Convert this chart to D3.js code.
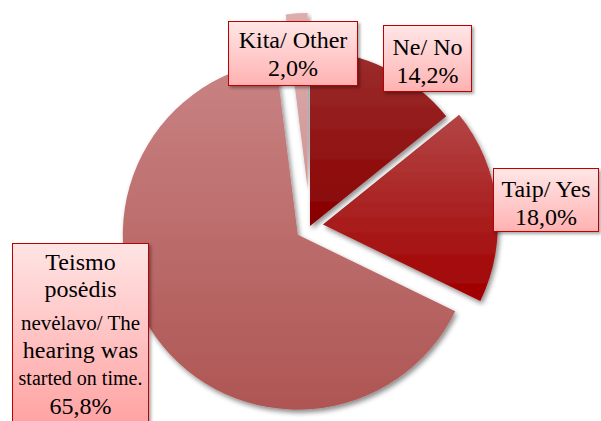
<!DOCTYPE html>
<html>
<head>
<meta charset="utf-8">
<script src="https://cdn.jsdelivr.net/npm/d3@7"></script>
<style>
  body { margin: 0; background: #fff; }
  #chart { position: relative; width: 601px; height: 421px; overflow: hidden; }
  svg { display: block; position: absolute; left: 0; top: 0; }
  .box {
    position: absolute;
    box-sizing: border-box;
    border: 1.8px solid #c00000;
    background: linear-gradient(#ffe6e6, #ffb2b2);
    box-shadow: 2px 2px 3px rgba(0, 0, 0, 0.35);
  }
  .line {
    position: absolute;
    white-space: nowrap;
    text-align: center;
    line-height: 1;
    color: #000;
    font-family: "Liberation Serif", "Times New Roman", serif;
  }
</style>
</head>
<body>
<div id="chart"></div>
<script>
// data
const categories = ["Ne/ No", "Taip/ Yes", "Teismo posėdis nevėlavo/ The hearing was started on time.", "Kita/ Other"];
const values = [14.2, 18.0, 65.8, 2.0];
const valueLabels = ["14,2%", "18,0%", "65,8%", "2,0%"];

const width = 601, height = 421;
const cx = 310, cy = 226, radius = 175;

// slice look (explode distance, gradient top / bottom)
const sliceStyle = [
  { explode: 0,  top: "#9c2e2e", bottom: "#880000" },
  { explode: 13, top: "#b34545", bottom: "#a10000" },
  { explode: 15, top: "#c98383", bottom: "#ae5654" },
  { explode: 38, top: "#ddadad", bottom: "#d09696" }
];

// label boxes (Excel places them by hand); lines: text, font size, baseline
const labelBoxes = [
  { x: 383, y: 25, w: 89, h: 67, lines: [["Ne/ No", 24, 55], ["14,2%", 24, 83]] },
  { x: 493, y: 168, w: 106, h: 64, lines: [["Taip/ Yes", 24, 197], ["18,0%", 24, 225]] },
  { x: 12, y: 243, w: 137, h: 200, lines: [["Teismo", 24, 270], ["posėdis", 24, 297],
      ["nevėlavo/ The", 21, 331], ["hearing was", 24, 358], ["started on time.", 20, 385], ["65,8%", 24, 414]] },
  { x: 228, y: 21, w: 130, h: 65, lines: [["Kita/ Other", 24, 48], ["2,0%", 24, 76]] }
];

const chart = d3.select("#chart");

const svg = chart.append("svg")
  .attr("width", width)
  .attr("height", height);

const defs = svg.append("defs");

const shadow = defs.append("filter").attr("id", "shadow")
  .attr("x", "-20%").attr("y", "-20%").attr("width", "140%").attr("height", "140%");
shadow.append("feDropShadow")
  .attr("dx", 2).attr("dy", 3).attr("stdDeviation", 2.5)
  .attr("flood-color", "#000").attr("flood-opacity", 0.45);

sliceStyle.forEach(function(s, i){
  let g = defs.append("linearGradient").attr("id", "slice" + i)
    .attr("x1", 0).attr("y1", 0).attr("x2", 0).attr("y2", 1);
  g.append("stop").attr("offset", "0%").attr("stop-color", s.top);
  g.append("stop").attr("offset", "100%").attr("stop-color", s.bottom);
});

const pie = d3.pie().sort(null).value(d => d)(values);
const arc = d3.arc().innerRadius(0).outerRadius(radius);

const pieG = svg.append("g").attr("transform", "translate(" + cx + "," + cy + ")");

// draw Kita first so it sits behind the others
const order = [3, 2, 1, 0];
order.forEach(function(i){
  let d = pie[i];
  let mid = (d.startAngle + d.endAngle) / 2;
  let off = sliceStyle[i].explode;
  pieG.append("path")
    .attr("d", arc(d))
    .attr("transform", "translate(" + (Math.sin(mid) * off) + "," + (-Math.cos(mid) * off) + ")")
    .attr("fill", "url(#slice" + i + ")")
    .attr("filter", "url(#shadow)");
});

// labels as html boxes over the svg
labelBoxes.forEach(function(b, i){
  chart.append("div")
    .attr("class", "box")
    .style("left", b.x + "px")
    .style("top", b.y + "px")
    .style("width", b.w + "px")
    .style("height", b.h + "px")
    .style("background", i == 2 ? "linear-gradient(#ffe4e4, #ff9c9c)" : null);
  b.lines.forEach(function(l){
    chart.append("div")
      .attr("class", "line")
      .style("left", (b.x - 20) + "px")
      .style("width", (b.w + 40) + "px")
      .style("top", (l[2] - 0.8375 * l[1]) + "px")
      .style("font-size", l[1] + "px")
      .text(l[0]);
  });
});
</script>
</body>
</html>
